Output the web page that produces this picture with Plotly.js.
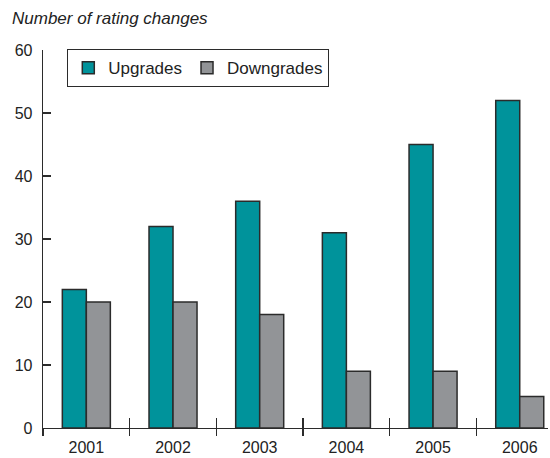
<!DOCTYPE html>
<html>
<head>
<meta charset="utf-8">
<script src="https://cdn.plot.ly/plotly-3.0.1.min.js"></script>
<style>html,body{margin:0;padding:0;background:#fff;}#chart{width:550px;height:458px;}</style>
</head>
<body>
<div id="chart"></div>
<script>
var years = ["2001", "2002", "2003", "2004", "2005", "2006"];
var upgrades = [22, 32, 36, 31, 45, 52];
var downgrades = [20, 20, 18, 9, 9, 5];
var yTicks = [0, 10, 20, 30, 40, 50, 60];

var teal = "#00939b";
var gray = "#929497";
var edge = "#2b2b2b";
var font = "Liberation Sans, Arial, sans-serif";

var traces = [
  {type: "bar", name: "Upgrades", x: years, y: upgrades,
   marker: {color: teal, line: {color: edge, width: 1.5}}},
  {type: "bar", name: "Downgrades", x: years, y: downgrades,
   marker: {color: gray, line: {color: edge, width: 1.5}}},
  {type: "scatter", x: years, y: [null,null,null,null,null,null], xaxis: "x2", showlegend: false, hoverinfo: "skip"}
];

var layout = {
  width: 550, height: 458,
  margin: {l: 43, r: 2, t: 50, b: 30},
  paper_bgcolor: "#fff", plot_bgcolor: "#fff",
  font: {family: font, size: 16, color: "#222"},
  title: {text: "<i>Number of rating changes</i>", x: 12/550, xanchor: "left", xref: "container",
          y: 1 - 18/458, yanchor: "middle", yref: "container",
          font: {family: font, size: 17, color: "#222"}},
  barmode: "group", bargap: 0.446, bargroupgap: 0,
  xaxis: {type: "category", range: [-0.5, 5.326], showgrid: false, zeroline: false,
          showline: true, linecolor: edge, linewidth: 1.3,
          ticks: "outside", tickson: "boundaries", ticklen: 7, tickwidth: 1.5, tickcolor: edge,
          ticklabelstandoff: 4,
          tickfont: {family: font, size: 16, color: "#222"}, fixedrange: true},
  xaxis2: {type: "category", overlaying: "x", range: [-0.5, 5.326], showgrid: false, zeroline: false,
           showline: false, ticks: "inside", tickson: "boundaries", ticklen: 10, tickwidth: 1.5,
           tickcolor: edge, showticklabels: false, side: "bottom", anchor: "y"},
  yaxis: {range: [0, 60], tickvals: yTicks, showgrid: false, zeroline: false,
          showline: true, linecolor: edge, linewidth: 1.3,
          ticks: "inside", ticklen: 8, tickwidth: 1.3, tickcolor: edge,
          tickfont: {family: font, size: 16, color: "#222"}, ticklabelstandoff: 6},
  legend: {orientation: "h", x: (67-43)/505, xanchor: "left", y: (428-49)/378, yanchor: "top",
           bordercolor: edge, borderwidth: 1.3, bgcolor: "#fff",
           font: {family: font, size: 17, color: "#222"}, itemwidth: 30,
           traceorder: "normal"}
};

Plotly.newPlot("chart", traces, layout, {displayModeBar: false, staticPlot: true});
</script>
</body>
</html>
